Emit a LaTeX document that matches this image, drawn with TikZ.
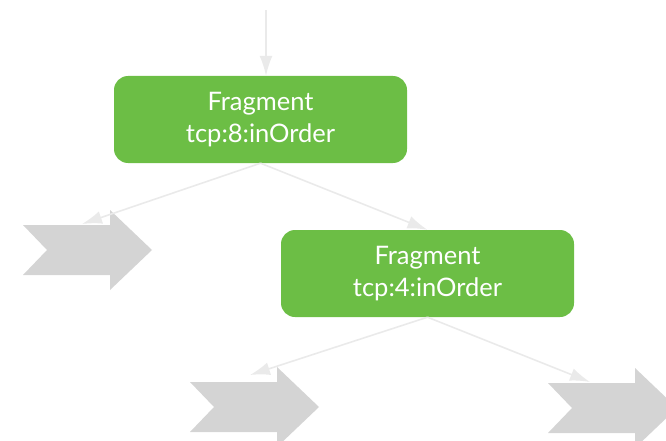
\documentclass[tikz,border=0pt]{standalone}
\usepackage{fontspec}
\setmainfont{Lato}
\usetikzlibrary{arrows.meta}
\definecolor{fraggreen}{HTML}{6CBE45}
\definecolor{chevgray}{HTML}{D4D4D4}
\definecolor{linkgray}{HTML}{EAEAEA}
\tikzset{
  fragbox/.style={fill=fraggreen, draw=none, rounded corners=14pt,
    minimum width=293pt, minimum height=87pt, inner sep=0pt,
    text=white, align=center, font=\fontsize{25.5}{32}\selectfont},
  link/.style={draw=linkgray, line width=1.6pt,
    -{Latex[length=20pt,width=13pt]}},
  chevron/.pic={
    \fill[chevgray] (0,-25) -- (24,0) -- (0,25) -- (87,25) -- (87,40)
      -- (129,0) -- (87,-40) -- (87,-25) -- cycle;
  }
}
\begin{document}
\begin{tikzpicture}[x=1pt,y=-1pt]
  \useasboundingbox (0,0) rectangle (666,441);

  % fragment operators
  \node[fragbox] (top)  at (260.5,119.5) {Fragment\\tcp:8:inOrder};
  \node[fragbox] (frag) at (427.5,273.5) {Fragment\\tcp:4:inOrder};

  % downstream exchanges
  \pic at (23,250)  {chevron};
  \pic at (190,407) {chevron};
  \pic at (548,408) {chevron};

  % link end points
  \coordinate (src) at (266,10);
  \coordinate (ex1) at (82,224);
  \coordinate (ex2) at (250,375);
  \coordinate (ex3) at (590,382);

  % links
  \draw[link] (src) -- (src |- top.north);
  \draw[link] (top.south) -- (ex1);
  \draw[link] (top.south) -- (frag.north);
  \draw[link] (frag.south) -- (ex2);
  \draw[link] (frag.south) -- (ex3);
\end{tikzpicture}
\end{document}
